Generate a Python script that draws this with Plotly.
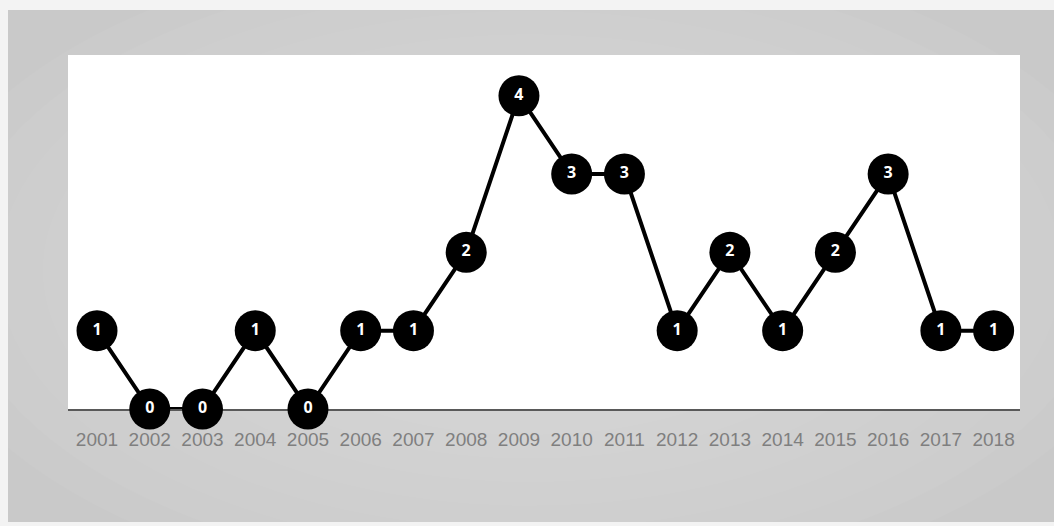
import plotly.graph_objects as go

years = [str(y) for y in range(2001, 2019)]
counts = [1, 0, 0, 1, 0, 1, 1, 2, 4, 3, 3, 1, 2, 1, 2, 3, 1, 1]

W, H = 1054, 526
L, R, T, B = 68, 1020, 55, 409  # plot area in pixels


def px(x):
    return (x - L) / (R - L)


def py(y):
    return (B - y) / (B - T)


shapes = []
# outer light frame + gray base
shapes.append(dict(type="rect", xref="paper", yref="paper", x0=px(8), x1=px(W), y0=py(10), y1=py(522),
                   fillcolor="#c9c9c9", line=dict(width=0), layer="below"))
# soft radial-ish lightening toward centre
cx, cy = 530, 270
n = 14
for i in range(n):
    f = 1 - i / n
    rx, ry = 620 * f, 330 * f
    shapes.append(dict(type="circle", xref="paper", yref="paper", x0=px(cx - rx), x1=px(cx + rx),
                       y0=py(cy + ry), y1=py(cy - ry), fillcolor="white", opacity=0.04,
                       line=dict(width=0), layer="below"))
# white plot area
shapes.append(dict(type="rect", xref="paper", yref="paper", x0=0, x1=1, y0=0, y1=1,
                   fillcolor="white", line=dict(width=0), layer="below"))

fig = go.Figure(go.Scatter(
    x=years, y=counts, mode="lines+markers+text",
    line=dict(color="black", width=4),
    marker=dict(size=41, color="black"),
    text=[str(c) for c in counts], textposition="middle center",
    textfont=dict(color="white", size=16, family="Open Sans", weight="bold"),
    cliponaxis=False, hoverinfo="skip"))

fig.update_layout(
    width=W, height=H,
    margin=dict(l=L, r=W - R, t=T, b=H - B),
    paper_bgcolor="#f3f3f3", plot_bgcolor="rgba(0,0,0,0)",
    shapes=shapes, showlegend=False,
    xaxis=dict(type="category", range=[-0.55, 17.5], showgrid=False, zeroline=False,
               showline=True, linecolor="#595959", linewidth=2, ticks="",
               tickfont=dict(family="Liberation Sans", size=19, color="#7f7f7f"),
               ticklabelstandoff=12,
               layer="below traces", fixedrange=True),
    yaxis=dict(range=[0, 4.52], showgrid=False, zeroline=False, showticklabels=False,
               showline=False, fixedrange=True),
)

fig.write_html("out.html")
